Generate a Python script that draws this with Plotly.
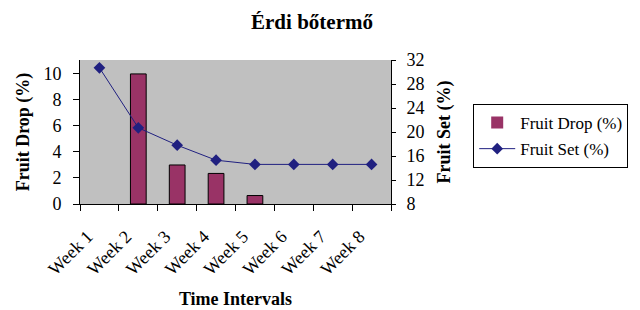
import plotly.graph_objects as go

weeks = ["Week 1", "Week 2", "Week 3", "Week 4", "Week 5", "Week 6", "Week 7", "Week 8"]
fruit_drop = [0, 10, 3, 2.35, 0.65, 0, 0, 0]
fruit_set = [30.7, 20.7, 17.8, 15.3, 14.6, 14.6, 14.6, 14.6]
left_ticks = [0, 2, 4, 6, 8, 10]
right_ticks = [8, 12, 16, 20, 24, 28, 32]

FONT = "Liberation Serif, Times New Roman, serif"
BAR_COLOR = "#993366"
LINE_COLOR = "#202080"

fig = go.Figure()
fig.add_trace(go.Bar(
    x=weeks, y=fruit_drop, name="Fruit Drop (%)", legendgroup="a",
    marker=dict(color=BAR_COLOR,
                line=dict(color="black", width=[1 if v > 0 else 0 for v in fruit_drop])),
    width=0.405, xaxis="x", yaxis="y", hoverinfo="skip",
))
fig.add_trace(go.Scatter(
    x=weeks, y=fruit_set, name="Fruit Set (%)", mode="lines+markers", legendgroup="b",
    line=dict(color=LINE_COLOR, width=1),
    marker=dict(symbol="diamond", size=9, color=LINE_COLOR),
    xaxis="x", yaxis="y2", hoverinfo="skip",
))

n = len(weeks)
boundaries = [i - 0.5 for i in range(n + 1)]

def f(size):
    return dict(family=FONT, size=size, color="black")

fig.update_layout(
    width=640, height=310,
    margin=dict(l=80, r=246, t=60, b=106),
    paper_bgcolor="white",
    plot_bgcolor="#C0C0C0",
    font=f(18),
    title=dict(text="<b>Érdi bőtermő</b>", x=312 / 640, xanchor="center",
               y=1 - 22 / 310, yanchor="middle", font=f(21)),
    showlegend=True,
    legend=dict(x=(477 - 80) / 314, y=(204 - 104) / 144, xanchor="left", yanchor="top",
                bgcolor="white", bordercolor="black", borderwidth=1,
                font=f(17), tracegroupgap=1, itemwidth=36),
    xaxis=dict(type="category", categoryorder="array", categoryarray=weeks,
               range=[-0.5, n - 0.5], tickson="boundaries", ticks="outside",
               ticklen=6, tickcolor="black", tickangle=-45, ticklabelstandoff=14,
               ticklabelshift=-12, automargin=False,
               showline=True, linecolor="black", linewidth=1, showgrid=False,
               zeroline=False,
               title=dict(text="<b>Time Intervals</b>", font=f(18), standoff=14),
               tickfont=f(18)),
    xaxis2=dict(overlaying="x", anchor="y", range=[-0.5, n - 0.5], tickmode="array",
                tickvals=boundaries, ticks="inside", ticklen=5, tickcolor="black",
                showticklabels=False, showgrid=False, zeroline=False, showline=False,
                automargin=False),
    yaxis=dict(range=[0, 11.07], tickmode="array", tickvals=left_ticks, ticks="outside",
               ticklen=6, tickcolor="black", showline=True, linecolor="black",
               showgrid=False, zeroline=False, ticklabelstandoff=8, automargin=False,
               tickfont=f(18),
               title=dict(text="<b>Fruit Drop (%)</b>", font=f(18), standoff=9)),
    yaxis2=dict(range=[8, 32], tickmode="array", tickvals=right_ticks, overlaying="y",
                side="right", anchor="x", ticks="outside", ticklen=4, tickcolor="black",
                showline=True, linecolor="black", showgrid=False, zeroline=False,
                ticklabelstandoff=7, tickfont=f(18), automargin=False,
                title=dict(text="<b>Fruit Set (%)</b>", font=f(18), standoff=13)),
    yaxis3=dict(range=[8, 32], tickmode="array", tickvals=right_ticks, overlaying="y",
                side="right", anchor="x", ticks="inside", ticklen=4, tickcolor="black",
                showticklabels=False, showline=False, showgrid=False, zeroline=False,
                automargin=False),
)

fig.write_html("out.html", config={"displayModeBar": False, "staticPlot": True},
               post_script="document.body.style.margin='0';document.body.style.overflow='hidden';")
